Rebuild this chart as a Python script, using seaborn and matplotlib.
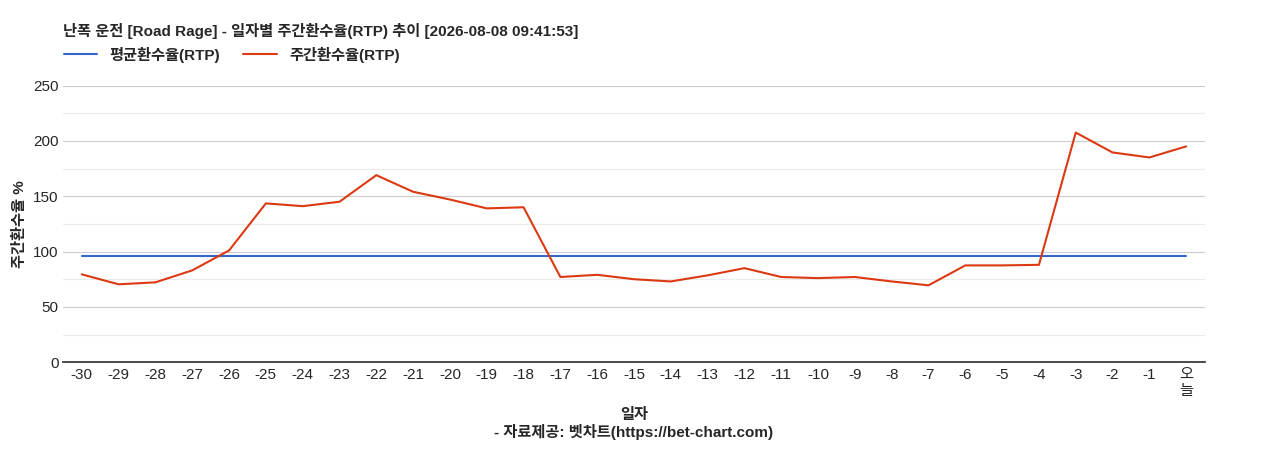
import matplotlib
matplotlib.use("Agg")
import matplotlib.pyplot as plt
import seaborn as sns
import pandas as pd

# data
days = [str(d) for d in range(-30, 0)] + ["오\n늘"]
weekly_rtp = [79.4, 70.4, 72.2, 83, 101, 143.5, 141, 145, 169, 154, 147, 139, 140,
              77, 79, 75, 73, 78.5, 85, 77, 76, 77, 73, 69.5, 87.5, 87.5, 88,
              207.5, 189.5, 185, 195]
avg_rtp = [95.7] * len(days)

sns.set_theme(style="white")
plt.rcParams["font.family"] = ["Liberation Sans", "Noto Sans CJK KR", "DejaVu Sans"]

df = pd.DataFrame({"x": range(len(days)), "avg": avg_rtp, "weekly": weekly_rtp})

fig, ax = plt.subplots(figsize=(12.68, 4.5), dpi=100)
fig.subplots_adjust(left=0.05, right=0.95, top=0.81, bottom=0.195)

for y in range(25, 250, 50):
    ax.axhline(y, color="#ebebeb", lw=0.8, zorder=0)
for y in range(50, 251, 50):
    ax.axhline(y, color="#cccccc", lw=0.8, zorder=0)

sns.lineplot(data=df, x="x", y="avg", color="#3366cc", lw=1.5, ax=ax, label="평균환수율(RTP)")
sns.lineplot(data=df, x="x", y="weekly", color="#dc3912", lw=1.5, ax=ax, label="주간환수율(RTP)")

ax.set_xlim(-0.5, len(days) - 0.5)
ax.set_ylim(0, 250)
ax.set_yticks(range(0, 251, 50))
ax.set_xticks(range(len(days)))
ax.set_xticklabels(days, fontsize=11, va="top")
ax.tick_params(axis="y", labelsize=11, length=0)
ax.tick_params(axis="x", length=0, pad=4)
for s in ["top", "right", "left"]:
    ax.spines[s].set_visible(False)
ax.spines["bottom"].set_color("#333333")

ax.set_xlabel("")
ax.set_ylabel("주간환수율 %", fontsize=11, fontweight="bold")
fig.text(0.5, 0.078, "일자", ha="center", va="center", fontsize=11, fontweight="bold")
fig.text(0.5, 0.03, "- 자료제공: 벳차트(https://bet-chart.com)", ha="center",
         fontsize=11, fontweight="bold")
fig.text(0.05, 0.92, "난폭 운전 [Road Rage] - 일자별 주간환수율(RTP) 추이 [2026-08-08 09:41:53]",
         fontsize=11, fontweight="bold")
ax.legend(loc="lower left", bbox_to_anchor=(-0.005, 1.06), ncol=2, frameon=False,
          prop={"size": 11, "weight": "bold"}, handlelength=2.2, borderaxespad=0,
          columnspacing=1.5)

fig.savefig("out.png", dpi=100)
